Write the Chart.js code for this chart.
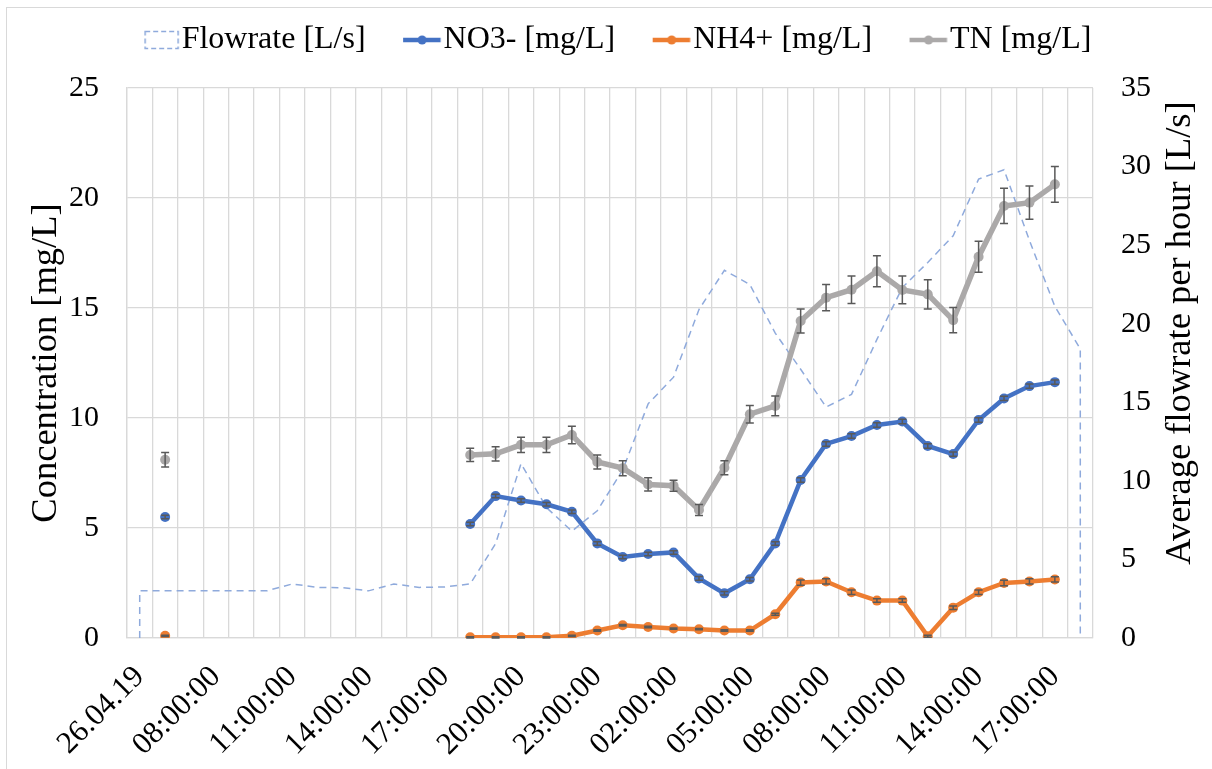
<!DOCTYPE html>
<html>
<head>
<meta charset="utf-8">
<title>Nitrogen and flowrate</title>
<script src="https://cdn.jsdelivr.net/npm/chart.js@4.4.1/dist/chart.umd.min.js"></script>
<style>
  html, body { margin: 0; padding: 0; background: #fff; }
  #wrap { position: relative; width: 1212px; height: 769px; overflow: hidden; }
  #frame { position: absolute; left: 6px; top: 7px; width: 1212px; height: 769px; border: 1px solid #d9d9d9; pointer-events: none; }
  canvas { position: absolute; left: 0; top: 0; }
</style>
</head>
<body>
<div id="wrap">
  <canvas id="chart" width="1212" height="769"></canvas>
  <div id="frame"></div>
</div>
<script>
// hourly samples, 26.04.19 05:00 -> 27.04.19 18:00
const hours = [
  '26.04.19', '06:00:00', '07:00:00', '08:00:00', '09:00:00', '10:00:00', '11:00:00', '12:00:00',
  '13:00:00', '14:00:00', '15:00:00', '16:00:00', '17:00:00', '18:00:00', '19:00:00', '20:00:00',
  '21:00:00', '22:00:00', '23:00:00', '00:00:00', '01:00:00', '02:00:00', '03:00:00', '04:00:00',
  '05:00:00', '06:00:00', '07:00:00', '08:00:00', '09:00:00', '10:00:00', '11:00:00', '12:00:00',
  '13:00:00', '14:00:00', '15:00:00', '16:00:00', '17:00:00', '18:00:00'
];

// average flowrate per hour [L/s]
const flowRate = [
  3.0, 3.0, 3.0, 3.0, 3.0, 3.0, 3.44, 3.22, 3.2, 3.0, 3.44, 3.22, 3.25, 3.44,
  6.0, 11.1, 8.3, 6.8, 8.1, 10.7, 14.9, 16.6, 20.9, 23.4, 22.5, 19.4, 17.1, 14.7,
  15.5, 19.0, 22.3, 23.9, 25.6, 29.2, 29.8, 25.3, 21.1, 18.4
];

// concentrations [mg/L], null = not sampled
const no3 = [
  null, 5.5, null, null, null, null, null, null, null, null, null, null, null,
  5.18, 6.45, 6.25, 6.08, 5.74, 4.3, 3.68, 3.82, 3.89, 2.71, 2.03, 2.67, 4.3,
  7.18, 8.82, 9.18, 9.68, 9.84, 8.73, 8.36, 9.91, 10.89, 11.45, 11.63, null
];
const nh4 = [
  null, 0.1, null, null, null, null, null, null, null, null, null, null, null,
  0.03, 0.03, 0.03, 0.03, 0.1, 0.34, 0.58, 0.5, 0.43, 0.4, 0.34, 0.34, 1.08,
  2.52, 2.57, 2.08, 1.7, 1.7, 0.08, 1.38, 2.08, 2.5, 2.57, 2.66, null
];
const tn = [
  null, 8.1, null, null, null, null, null, null, null, null, null, null, null,
  8.32, 8.37, 8.78, 8.78, 9.23, 8.0, 7.72, 6.98, 6.92, 5.82, 7.74, 10.17, 10.55,
  14.41, 15.47, 15.83, 16.67, 15.82, 15.62, 14.45, 17.33, 19.64, 19.79, 20.62, null
];

// standard deviations
const no3Err = [
  null, 0.08, null, null, null, null, null, null, null, null, null, null, null,
  0.08, 0.08, 0.08, 0.08, 0.08, 0.08, 0.08, 0.08, 0.08, 0.08, 0.08, 0.08, 0.08,
  0.1, 0.1, 0.1, 0.1, 0.1, 0.1, 0.1, 0.1, 0.1, 0.1, 0.1, null
];
const nh4Err = [
  null, 0.03, null, null, null, null, null, null, null, null, null, null, null,
  0.03, 0.03, 0.03, 0.03, 0.03, 0.03, 0.03, 0.03, 0.03, 0.03, 0.03, 0.03, 0.05,
  0.12, 0.12, 0.1, 0.08, 0.08, 0.05, 0.08, 0.1, 0.12, 0.12, 0.12, null
];
const tnErr = [
  null, 0.33, null, null, null, null, null, null, null, null, null, null, null,
  0.3, 0.32, 0.35, 0.35, 0.4, 0.32, 0.34, 0.3, 0.25, 0.25, 0.32, 0.4, 0.45,
  0.55, 0.6, 0.63, 0.7, 0.63, 0.66, 0.57, 0.7, 0.8, 0.76, 0.81, null
];

const seriesNames = ['Flowrate [L/s]', 'NO3- [mg/L]', 'NH4+ [mg/L]', 'TN [mg/L]'];
const yLeftTitle = 'Concentration [mg/L]';
const yRightTitle = 'Average flowrate per hour [L/s]';

const COLORS = { flow: '#8faadc', no3: '#4472c4', nh4: '#ed7d31', tn: '#aba9a9', err: '#595959', grid: '#d9d9d9' };
const FONT = "'Liberation Serif', 'Times New Roman', serif";
const TITLE_SIZE = 36.5;

Chart.defaults.font.family = FONT;
Chart.defaults.font.size = 30;
Chart.defaults.color = '#000';

// flow is drawn as an outlined area: drop to zero at both ends
const flowOutline = [{ x: 0, y: 0 }]
  .concat(flowRate.map((v, i) => ({ x: i, y: v })))
  .concat([{ x: flowRate.length - 1, y: 0 }]);

// legend symbols: wide transparent canvas, symbol sits on its right side next to the text
function legendSymbol(kind, color) {
  const c = document.createElement('canvas');
  c.width = 76;
  c.height = 24;
  const g = c.getContext('2d');
  const w = c.width;
  if (kind === 'box') {
    g.strokeStyle = color;
    g.lineWidth = 1.5;
    g.setLineDash([5, 3]);
    g.strokeRect(w - 36, 3.5, 33, 17);
  } else {
    g.strokeStyle = color;
    g.lineWidth = 4.5;
    g.beginPath();
    g.moveTo(w - 40, 12);
    g.lineTo(w - 2.5, 12);
    g.stroke();
    g.fillStyle = color;
    g.beginPath();
    g.arc(w - 21, 12, 4.5, 0, Math.PI * 2);
    g.fill();
  }
  return c;
}
const symbols = [
  legendSymbol('box', COLORS.flow),
  legendSymbol('line', COLORS.no3),
  legendSymbol('line', COLORS.nh4),
  legendSymbol('line', COLORS.tn)
];

// vertical error bars with caps, drawn right after each series
const errorBars = {
  id: 'errorBars',
  afterDatasetDraw(chart, args) {
    const ds = chart.data.datasets[args.index];
    if (!ds.errors) return;
    const yScale = chart.scales[args.meta.yAxisID];
    const ctx = chart.ctx;
    ctx.save();
    ctx.strokeStyle = COLORS.err;
    ctx.lineWidth = 1.5;
    args.meta.data.forEach((pt, i) => {
      const v = ds.data[i];
      const e = ds.errors[i];
      if (v == null || e == null) return;
      const yHi = yScale.getPixelForValue(v + e);
      const yLo = yScale.getPixelForValue(Math.max(0, v - e));
      ctx.beginPath();
      ctx.moveTo(pt.x, yHi); ctx.lineTo(pt.x, yLo);
      ctx.moveTo(pt.x - 4, yHi); ctx.lineTo(pt.x + 4, yHi);
      ctx.moveTo(pt.x - 4, yLo); ctx.lineTo(pt.x + 4, yLo);
      ctx.stroke();
    });
    ctx.restore();
  }
};

// extra room below the legend
const legendGap = {
  id: 'legendGap',
  beforeInit(chart) {
    const fit = chart.legend.fit;
    chart.legend.fit = function () {
      fit.call(this);
      this.height = 81;
    };
  }
};

// right axis title, reading bottom to top like the left one
const rightTitle = {
  id: 'rightTitle',
  afterDraw(chart) {
    const s = chart.scales.yFlow;
    const ctx = chart.ctx;
    ctx.save();
    ctx.font = TITLE_SIZE + 'px ' + FONT;
    ctx.fillStyle = '#000';
    ctx.textAlign = 'center';
    ctx.textBaseline = 'middle';
    ctx.translate(s.right - 32, (s.top + s.bottom) / 2 - 30);
    ctx.rotate(-Math.PI / 2);
    ctx.fillText(yRightTitle, 0, 0);
    ctx.restore();
  }
};

function lineSeries(label, data, errors, color, width, order) {
  return {
    label: label,
    data: data,
    errors: errors,
    borderColor: color,
    backgroundColor: color,
    pointBackgroundColor: color,
    pointBorderWidth: 0,
    pointRadius: 5,
    borderWidth: width,
    xAxisID: 'x',
    yAxisID: 'y',
    spanGaps: false,
    order: order
  };
}

new Chart(document.getElementById('chart'), {
  type: 'line',
  data: {
    labels: hours,
    datasets: [
      {
        label: seriesNames[0],
        data: flowOutline,
        borderColor: COLORS.flow,
        borderWidth: 1.5,
        borderDash: [7, 5],
        pointRadius: 0,
        fill: false,
        xAxisID: 'xFlow',
        yAxisID: 'yFlow',
        order: 3
      },
      lineSeries(seriesNames[1], no3, no3Err, COLORS.no3, 4.5, 2),
      lineSeries(seriesNames[2], nh4, nh4Err, COLORS.nh4, 4.5, 1),
      lineSeries(seriesNames[3], tn, tnErr, COLORS.tn, 5.5, 0)
    ]
  },
  options: {
    responsive: false,
    animation: false,
    devicePixelRatio: 1,
    layout: { padding: { top: 7, left: 0, right: 0, bottom: 0 } },
    plugins: {
      tooltip: { enabled: false },
      legend: {
        position: 'top',
        labels: {
          usePointStyle: true,
          pointStyleWidth: 45,
          padding: 17,
          font: { size: 32 },
          generateLabels(chart) {
            return chart.data.datasets.map((ds, i) => ({
              text: ds.label,
              datasetIndex: i,
              pointStyle: symbols[i],
              fillStyle: 'transparent',
              strokeStyle: 'transparent',
              lineWidth: 0,
              hidden: false,
              fontColor: '#000'
            }));
          }
        }
      }
    },
    scales: {
      x: {
        type: 'category',
        offset: true,
        grid: { offset: true, color: COLORS.grid, lineWidth: 1.3, drawTicks: false },
        border: { color: COLORS.grid, width: 1.3 },
        ticks: {
          autoSkip: false,
          maxRotation: 45,
          minRotation: 45,
          padding: 21,
          font: { size: 31 },
          callback: (val, i) => (i % 3 === 0 ? hours[i] : '')
        },
        afterFit(scale) { scale.height = 131; }
      },
      xFlow: {
        type: 'linear',
        display: false,
        min: -0.5,
        max: hours.length - 0.5
      },
      y: {
        position: 'left',
        min: 0,
        max: 25,
        ticks: { stepSize: 5, padding: 28, font: { size: 30 } },
        grid: { color: COLORS.grid, lineWidth: 1.3, drawTicks: false },
        border: { color: COLORS.grid, width: 1.3 },
        title: {
          display: true,
          text: yLeftTitle,
          font: { size: TITLE_SIZE },
          padding: { top: 25, bottom: 0 }
        },
        afterFit(scale) { scale.width = 127; }
      },
      yFlow: {
        position: 'right',
        min: 0,
        max: 35,
        ticks: { stepSize: 5, padding: 28, font: { size: 30 } },
        grid: { display: false, drawTicks: false },
        border: { display: false },
        afterFit(scale) { scale.width = 119; }
      }
    }
  },
  plugins: [errorBars, legendGap, rightTitle]
});
</script>
</body>
</html>
